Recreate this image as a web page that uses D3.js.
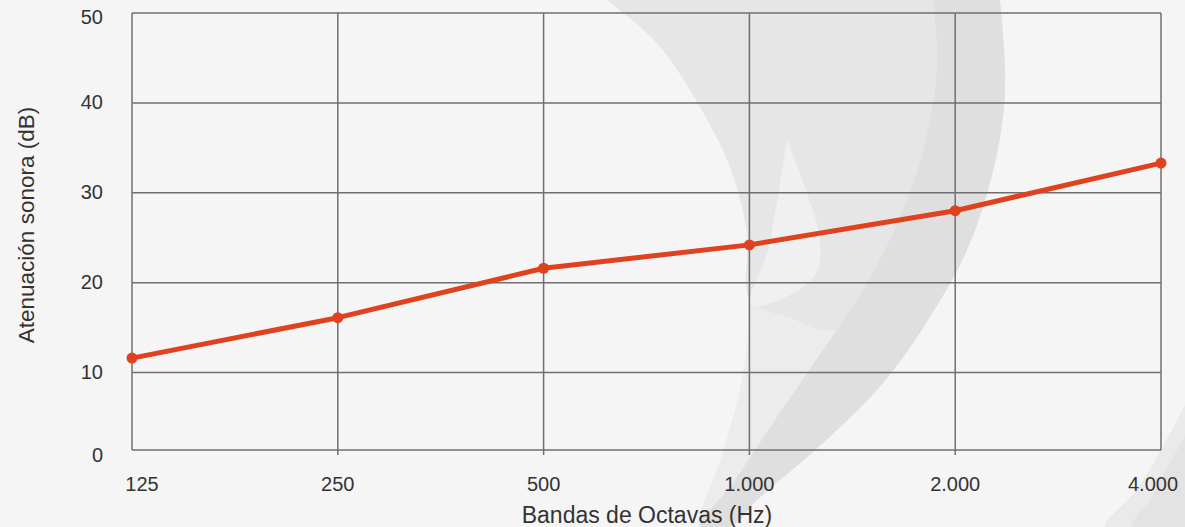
<!DOCTYPE html>
<html lang="es">
  <head>
    <meta charset="utf-8">
    <title>Atenuación sonora</title>
    <script type="text/javascript" src="https://cdn.jsdelivr.net/npm/d3@7"></script>
    <style type="text/css">
      html, body { margin: 0; padding: 0; background: #f5f5f5; }
      svg { display: block; font-family: "Liberation Sans", Arial, sans-serif; }
    </style>
  </head>
  <body>
    <script type="text/javascript">

      //Width and height
      var w = 1185;
      var h = 527;

      //Data
      var bands = ["125", "250", "500", "1.000", "2.000", "4.000"];
      var attenuation = [11.6, 16.1, 21.6, 24.2, 28.0, 33.3];
      var yTicks = [0, 10, 20, 30, 40, 50];

      //Plot box (note: "top" is reserved on window)
      var plotL = 132, plotR = 1160, plotT = 13, plotB = 450;

      //Scales (the reference's bottom band 0-10 is a bit shorter than the others)
      var x = d3.scalePoint()
                .domain(bands)
                .range([plotL, plotR + 1]);

      var y = d3.scaleLinear()
                .domain([0, 10, 50])
                .range([plotB, 372.5, plotT]);

      var svg = d3.select("body")
                  .append("svg")
                  .attr("width", w)
                  .attr("height", h);

      svg.append("rect")
         .attr("width", w)
         .attr("height", h)
         .style("fill", "#f5f5f5");

      //Decorative swooshes in the background
      var deco = svg.append("g");
      var smooth = d3.line().curve(d3.curveCatmullRom.alpha(0.5));

      function shape(pts, fill) {
        deco.append("path")
            .attr("d", smooth(pts) + "Z")
            .style("fill", fill);
      }

      //whole crescent
      shape([[607,0],[657,43],[700,107],[730,167],[747,233],[750,300],[742,380],[722,455],[700,527],
             [730,527],[757,500],[823,443],[883,383],[930,317],[967,250],[990,183],[1003,117],[1005,67],[1000,0]],
            "#ececec");

      //upper part, a bit darker
      shape([[607,0],[657,43],[700,107],[730,167],[747,233],[750,300],[790,318],[835,330],
             [867,283],[900,217],[923,150],[937,67],[933,0]],
            "#e6e6e6");

      //darker band
      shape([[933,0],[937,67],[923,150],[900,217],[867,283],[823,350],[777,417],[733,483],[700,527],
             [730,527],[757,500],[823,443],[883,383],[930,317],[967,250],[990,183],[1003,117],[1005,67],[1000,0]],
            "#dfdfdf");

      //small light flame
      shape([[787,140],[806,190],[820,240],[817,272],[790,295],[751,305],[768,250],[779,190]],
            "#f0f0f0");

      //bottom right corner
      shape([[1185,405],[1160,452],[1135,492],[1105,527],[1185,527]], "#eaeaea");
      shape([[1185,436],[1165,472],[1150,500],[1132,527],[1185,527]], "#e3e3e3");

      //Grid
      var grid = svg.append("g")
                    .style("stroke", "#6f6f6f")
                    .style("stroke-width", 1.5);

      grid.selectAll("line.h")
          .data(yTicks)
          .enter()
          .append("line")
          .attr("class", "h")
          .attr("x1", plotL)
          .attr("x2", plotR + 1)
          .attr("y1", function(d) { return y(d); })
          .attr("y2", function(d) { return y(d); });

      grid.selectAll("line.v")
          .data(bands)
          .enter()
          .append("line")
          .attr("class", "v")
          .attr("x1", function(d) { return x(d); })
          .attr("x2", function(d) { return x(d); })
          .attr("y1", plotT)
          .attr("y2", function(d, i) { return (i > 0 && i < bands.length - 1) ? plotB + 5 : plotB; });

      //Y tick labels
      svg.selectAll("text.ytick")
         .data(yTicks)
         .enter()
         .append("text")
         .attr("class", "ytick")
         .attr("x", 103)
         .attr("y", function(d) { return y(d); })
         .attr("dy", function(d) { return d === 0 ? "0.6em" : d === 50 ? "0.55em" : "0.3em"; })
         .attr("text-anchor", "end")
         .style("font-size", "20px")
         .style("fill", "#333")
         .text(function(d) { return d; });

      //X tick labels
      svg.selectAll("text.xtick")
         .data(bands)
         .enter()
         .append("text")
         .attr("class", "xtick")
         .attr("x", function(d, i) {
           var off = i === 0 ? 10 : (i === bands.length - 1 ? -8 : 0);
           return x(d) + off;
         })
         .attr("y", 491)
         .attr("text-anchor", "middle")
         .style("font-size", "20px")
         .style("fill", "#333")
         .text(function(d) { return d; });

      //Axis titles
      svg.append("text")
         .attr("x", 647)
         .attr("y", 523)
         .attr("text-anchor", "middle")
         .style("font-size", "23px")
         .style("fill", "#333")
         .text("Bandas de Octavas (Hz)");

      svg.append("text")
         .attr("transform", "translate(34,225) rotate(-90)")
         .attr("text-anchor", "middle")
         .style("font-size", "22.5px")
         .style("fill", "#333")
         .text("Atenuación sonora (dB)");

      //Series
      var line = d3.line()
                   .x(function(d, i) { return x(bands[i]); })
                   .y(function(d) { return y(d); });

      svg.append("path")
         .datum(attenuation)
         .attr("d", line)
         .style("fill", "none")
         .style("stroke", "#e0411f")
         .style("stroke-width", 5)
         .style("stroke-linejoin", "round");

      svg.selectAll("circle")
         .data(attenuation)
         .enter()
         .append("circle")
         .attr("cx", function(d, i) { return x(bands[i]); })
         .attr("cy", function(d) { return y(d); })
         .attr("r", 5.5)
         .style("fill", "#e0411f");

    </script>
  </body>
</html>
